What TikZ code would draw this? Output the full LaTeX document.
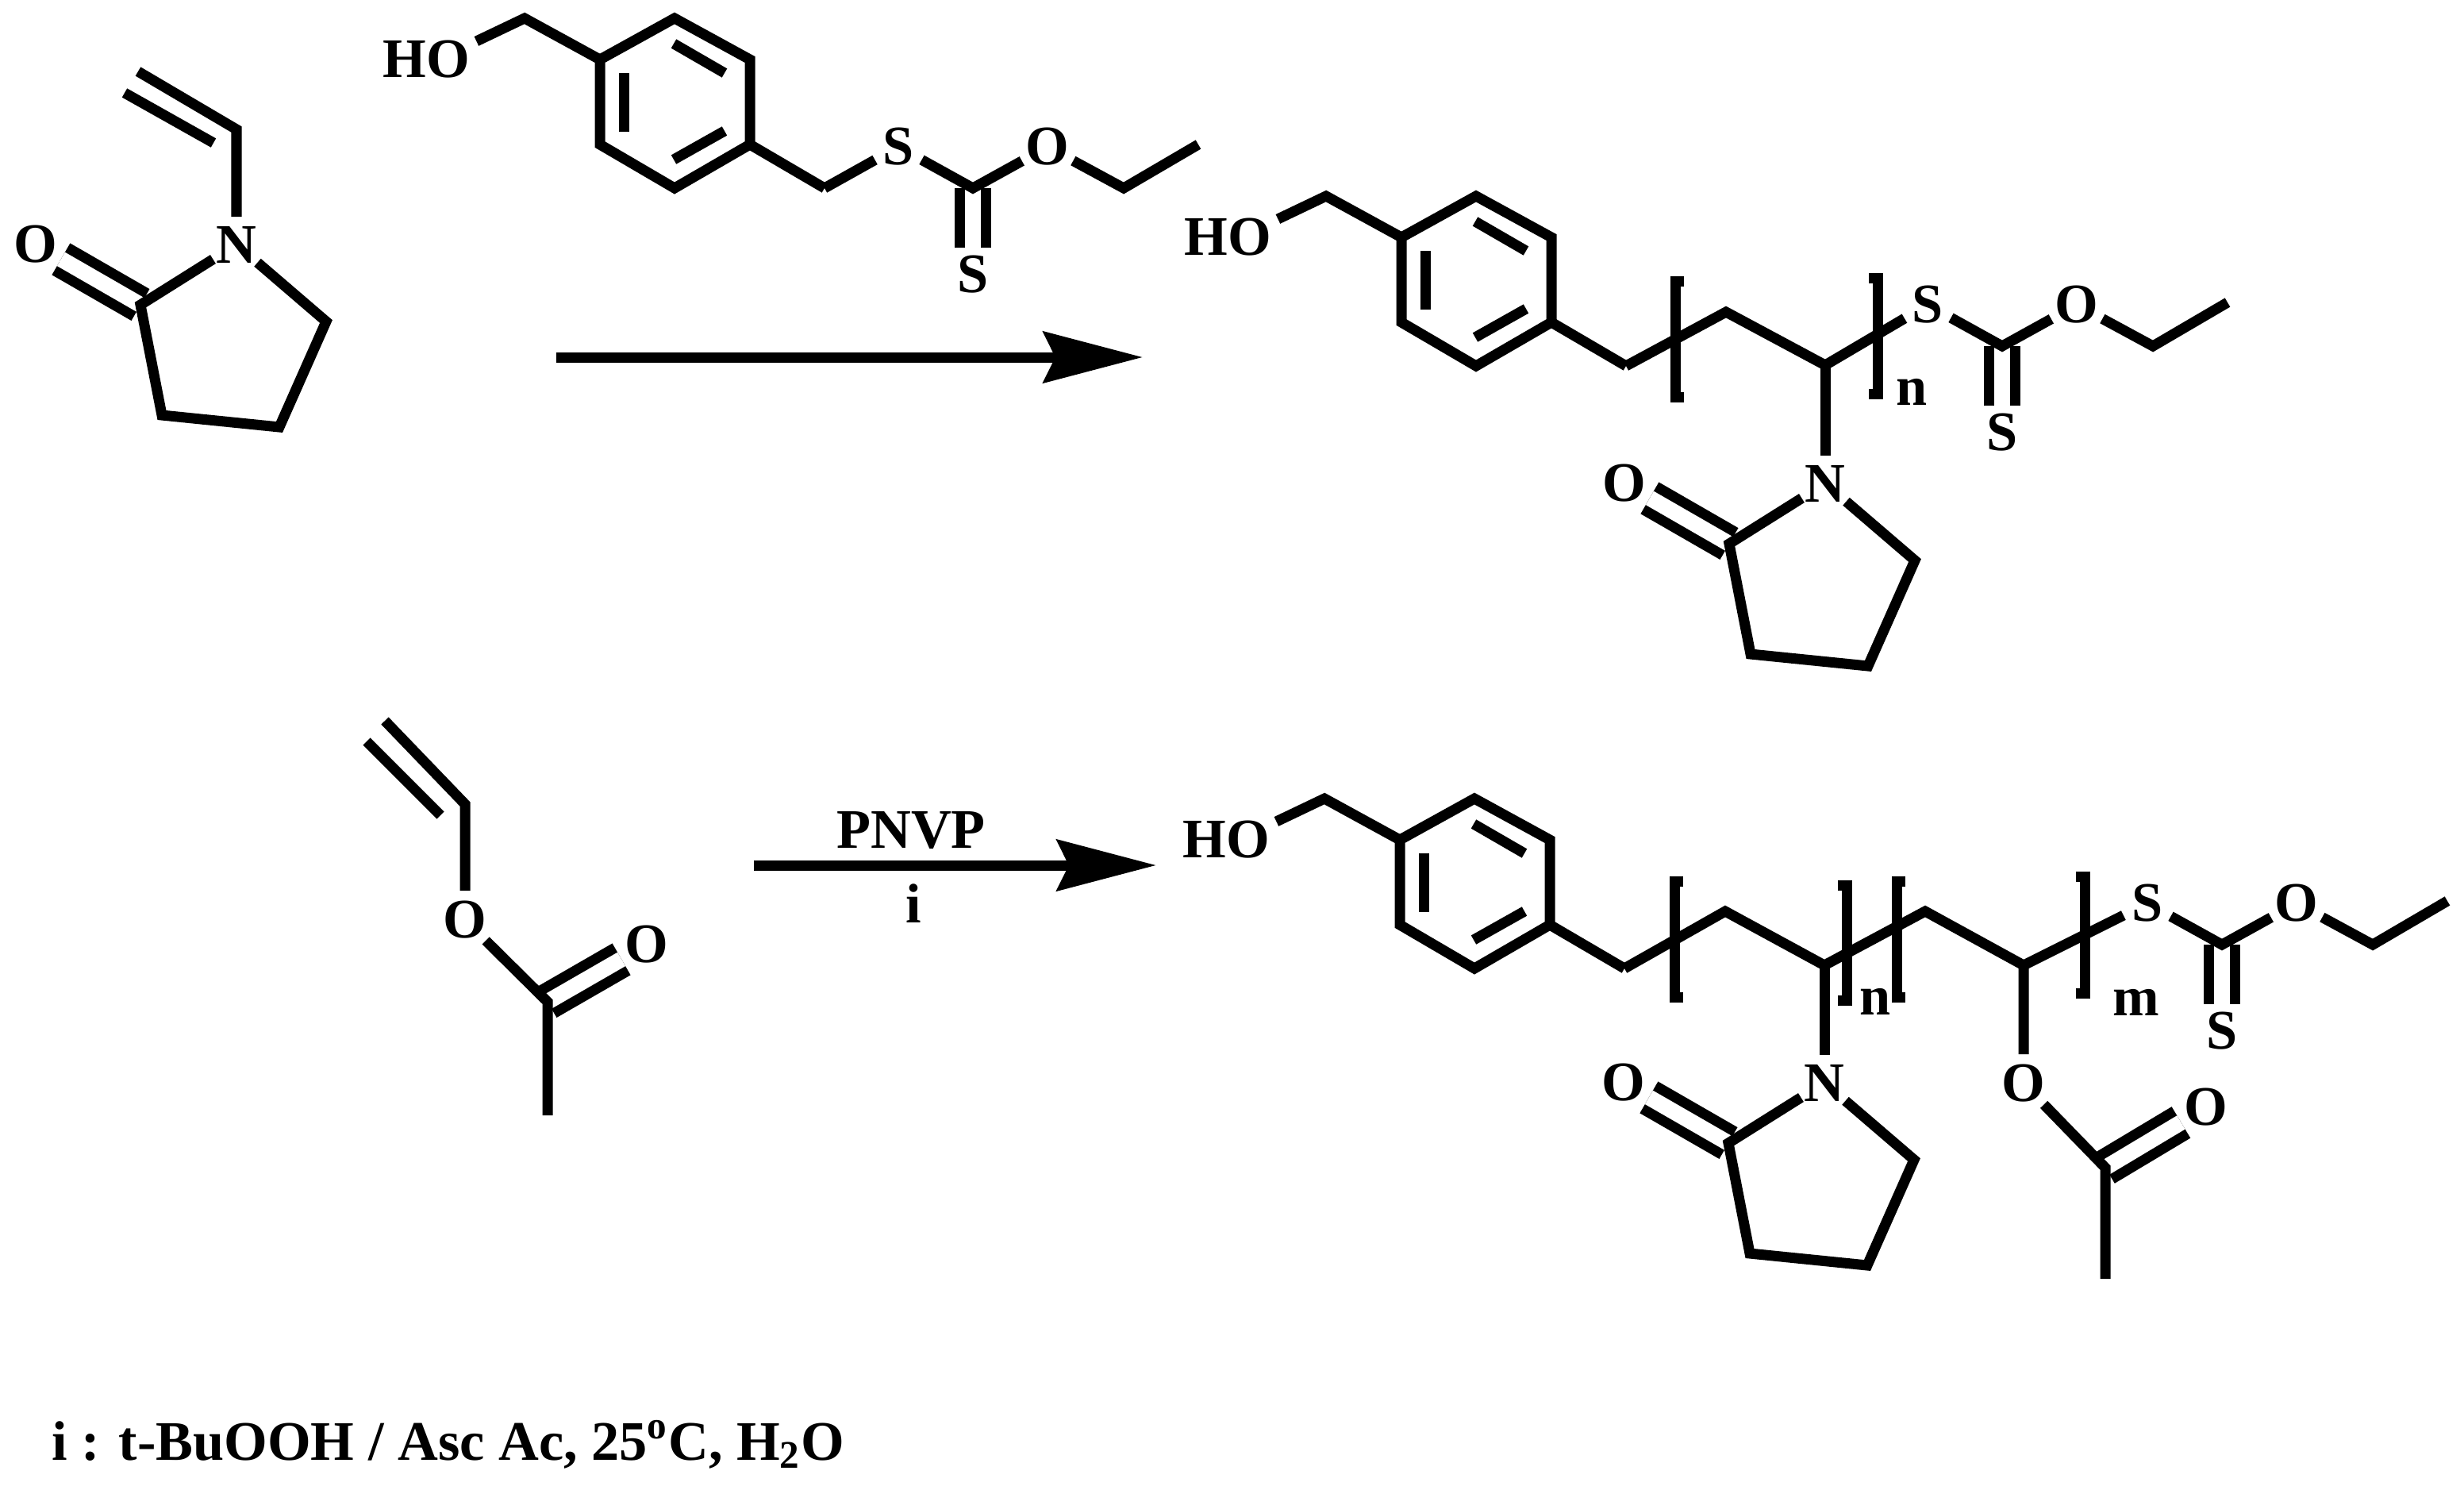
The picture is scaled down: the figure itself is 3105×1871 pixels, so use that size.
\documentclass[tikz,border=0pt]{standalone}
\usepackage{fontspec}
\setmainfont{Liberation Serif}
\usetikzlibrary{arrows.meta}
\tikzset{
	bond/.style={line width=0.13cm},
	dbl/.style={line width=0.13cm, double, double distance=0.2cm},
	atom/.style={shape=circle, inner sep=0, minimum size=0.66cm, font=\fontsize{20}{24}\selectfont\bfseries},
	word/.style={inner sep=0.08cm, font=\fontsize{20}{24}\selectfont\bfseries},
	brack/.style={line width=0.13cm, miter limit=10},
	rxn/.style={line width=0.13cm, -{Stealth[length=1.25cm,width=0.64cm,inset=0.15cm]}}
}
% 2-oxopyrrolidine ring, hung on its nitrogen
\def\lactam(#1)(#2){
	\begin{scope}[shift={(#2)},name prefix=#1-]
		\node[atom] (n) at (298, 308) {N};
		\node[atom] (o) at (45, 308) {O};
		\coordinate (c2) at (177, 384);
		\coordinate (c3) at (204, 523);
		\coordinate (c4) at (352, 538);
		\coordinate (c5) at (411, 405);
		\draw[dbl] (o) -- (c2);
		\draw[bond] (n) -- (c5) -- (c4) -- (c3) -- (c2) -- (n);
	\end{scope}
}
% HO-CH2-benzene-CH2
\def\benzyl(#1)(#2){
	\begin{scope}[shift={(#2)},name prefix=#1-]
		\node[word] (ho) at (537, 75) {HO};
		\coordinate (ch2) at (661, 23);
		\coordinate (top) at (850, 23);
		\coordinate (tr) at (945, 75);
		\coordinate (br) at (945, 182);
		\coordinate (bot) at (850, 237);
		\coordinate (bl) at (756, 182);
		\coordinate (tl) at (756, 75);
		\coordinate (ch2r) at (1039, 237);
		\coordinate (ia) at (786, 92);
		\coordinate (ib) at (786, 166);
		\coordinate (ic) at (849, 55);
		\coordinate (id) at (913, 92);
		\coordinate (ie) at (913, 165);
		\coordinate (if) at (849, 201);
		\draw[bond] (ho.20) -- (ch2) -- (tl);
		\draw[bond] (top) -- (tr) -- (br) -- (bot) -- (bl) -- (tl) -- cycle;
		\draw[bond] (ia) -- (ib);
		\draw[bond] (ic) -- (id);
		\draw[bond] (ie) -- (if);
		\draw[bond] (br) -- (ch2r);
	\end{scope}
}
% S-C(=S)-O-CH2-CH3
\def\xanthate(#1)(#2){
	\begin{scope}[shift={(#2)},name prefix=#1-]
		\node[atom] (s) at (1132, 185) {S};
		\node[atom] (t) at (1226, 346) {S};
		\node[atom] (o) at (1320, 185) {O};
		\coordinate (c) at (1226, 237);
		\coordinate (me) at (1416, 237);
		\coordinate (end) at (1510, 182);
		\draw[dbl] (c) -- (t);
		\draw[bond] (s) -- (c) -- (o);
		\draw[bond] (o) -- (me) -- (end);
	\end{scope}
}

\begin{document}
\begin{tikzpicture}[x=0.01cm, y=-0.01cm]
	\useasboundingbox (0, 0) rectangle (3105, 1871);
	%%%%% MONOMERS %%%%%
	\lactam(nvp)(0, 0)
	\coordinate (nvpc) at (298, 163);
	\coordinate (nvpa) at (174, 90);
	\coordinate (nvpb) at (157, 117);
	\coordinate (nvpd) at (269, 180);
	\draw[bond] (nvp-n) -- (nvpc) -- (nvpa);
	\draw[bond] (nvpb) -- (nvpd);

	\benzyl(cta)(0, 0)
	\xanthate(cta)(0, 0)
	\draw[bond] (cta-ch2r) -- (cta-s);

	\coordinate (ra) at (701, 450);
	\coordinate (rb) at (1440, 450);
	\draw[rxn] (ra) -- (rb);

	%%%%% PNVP %%%%%
	\benzyl(pa)(1010, 224)
	\xanthate(pa)(1297, 199)
	\lactam(pal)(2002, 301)
	\coordinate (pb) at (2175, 393);
	\coordinate (pc) at (2300, 460);
	\draw[bond] (pa-ch2r) -- (pb) -- (pc) -- (pa-s);
	\draw[bond] (pc) -- (pal-n);
	\coordinate (la) at (2122, 354);
	\coordinate (lb) at (2111, 354);
	\coordinate (lc) at (2111, 500);
	\coordinate (ld) at (2122, 500);
	\draw[brack] (la) -- (lb) -- (lc) -- (ld);
	\coordinate (ma) at (2355, 350);
	\coordinate (mb) at (2366, 350);
	\coordinate (mc) at (2366, 496);
	\coordinate (md) at (2355, 496);
	\draw[brack] (ma) -- (mb) -- (mc) -- (md);
	\node[word] (nlab) at (2409, 494) {n};

	%%%%% VINYL ACETATE %%%%%
	\coordinate (vc) at (586, 1013);
	\coordinate (va) at (485, 908);
	\coordinate (vb) at (462, 934);
	\coordinate (vd) at (555, 1027);
	\node[atom] (vo) at (586, 1159) {O};
	\coordinate (vk) at (690, 1262);
	\coordinate (vm) at (690, 1405);
	\node[atom] (vq) at (815, 1190) {O};
	\draw[dbl] (vk) -- (vq);
	\draw[bond] (vo) -- (vc) -- (va);
	\draw[bond] (vb) -- (vd);
	\draw[bond] (vo) -- (vk) -- (vm);

	\coordinate (rc) at (950, 1090);
	\coordinate (rd) at (1457, 1090);
	\draw[rxn] (rc) -- (rd);
	\node[word] (pnvp) at (1148, 1046) {PNVP};
	\node[word] (ilab) at (1151, 1138) {i};

	%%%%% COPOLYMER %%%%%
	\benzyl(qa)(1008, 983)
	\xanthate(qa)(1574, 953)
	\lactam(qal)(2001, 1056)
	\coordinate (qb) at (2174, 1148);
	\coordinate (qc) at (2299, 1216);
	\coordinate (qd) at (2426, 1148);
	\coordinate (qe) at (2550, 1216);
	\draw[bond] (qa-ch2r) -- (qb) -- (qc) -- (qd) -- (qe) -- (qa-s);
	\draw[bond] (qc) -- (qal-n);
	\node[atom] (qo) at (2550, 1365) {O};
	\coordinate (qk) at (2653, 1471);
	\coordinate (qm) at (2653, 1611);
	\node[atom] (qq) at (2780, 1395) {O};
	\draw[dbl] (qk) -- (qq);
	\draw[bond] (qe) -- (qo) -- (qk) -- (qm);
	\coordinate (sa) at (2121, 1110);
	\coordinate (sb) at (2110, 1110);
	\coordinate (sc) at (2110, 1256);
	\coordinate (sd) at (2121, 1256);
	\draw[brack] (sa) -- (sb) -- (sc) -- (sd);
	\coordinate (ta) at (2316, 1115);
	\coordinate (tb) at (2327, 1115);
	\coordinate (tc) at (2327, 1260);
	\coordinate (td) at (2316, 1260);
	\draw[brack] (ta) -- (tb) -- (tc) -- (td);
	\coordinate (ua) at (2401, 1110);
	\coordinate (ub) at (2390, 1110);
	\coordinate (uc) at (2390, 1256);
	\coordinate (ud) at (2401, 1256);
	\draw[brack] (ua) -- (ub) -- (uc) -- (ud);
	\coordinate (wa) at (2616, 1104);
	\coordinate (wb) at (2627, 1104);
	\coordinate (wc) at (2627, 1251);
	\coordinate (wd) at (2616, 1251);
	\draw[brack] (wa) -- (wb) -- (wc) -- (wd);
	\node[word] (nlabb) at (2363, 1262) {n};
	\node[word] (mlab) at (2692, 1263) {m};

	%%%%% CONDITIONS %%%%%
	\node[word, anchor=base west, inner sep=0] (cond) at (65, 1839) {i : t-BuOOH / Asc Ac, 25\textsuperscript{o}C, H\textsubscript{2}O};
\end{tikzpicture}
\end{document}
